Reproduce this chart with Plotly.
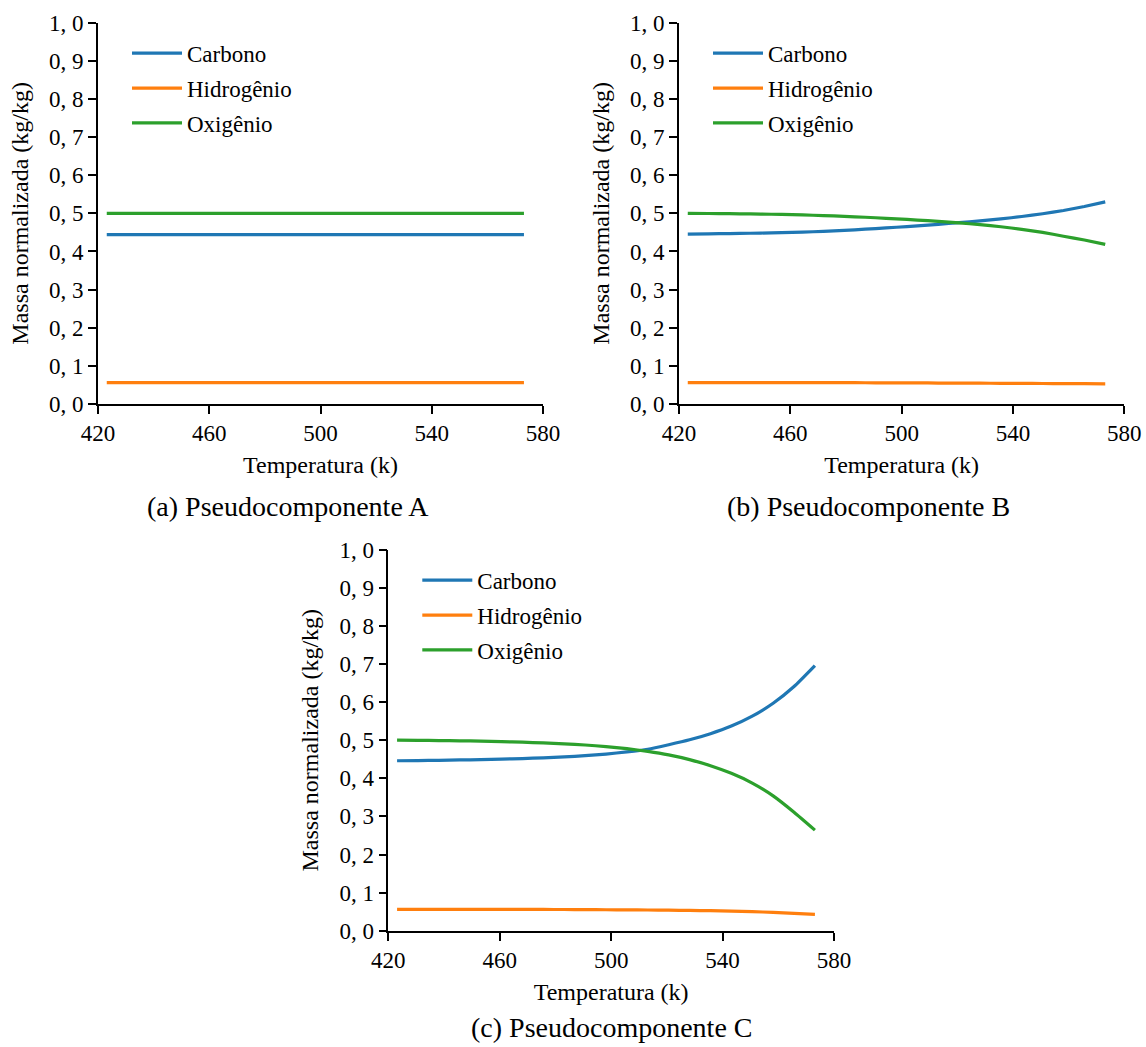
import plotly.graph_objects as go

# ---------------- data ----------------
temperatura = [423.15, 430.65, 438.15, 445.65, 453.15, 460.65, 468.15, 475.65, 483.15, 490.65,
               498.15, 505.65, 513.15, 520.65, 528.15, 535.65, 543.15, 550.65, 558.15, 565.65, 573.15]

# Pseudocomponente A (constant composition)
a_carbono = [0.444] * 21
a_hidrogenio = [0.056] * 21
a_oxigenio = [0.500] * 21

# Pseudocomponente B
b_carbono = [0.4457, 0.4463, 0.4470, 0.4478, 0.4488, 0.4500, 0.4517, 0.4540, 0.4568, 0.4600,
             0.4635, 0.4673, 0.4713, 0.4755, 0.4802, 0.4855, 0.4917, 0.4990, 0.5075, 0.5180, 0.5300]
b_hidrogenio = [0.056, 0.056, 0.056, 0.056, 0.056, 0.056, 0.056, 0.056, 0.0558, 0.0556,
                0.0555, 0.0553, 0.055, 0.0548, 0.0546, 0.0543, 0.054, 0.0537, 0.0534, 0.0532, 0.053]
b_oxigenio = [0.5000, 0.4996, 0.4991, 0.4985, 0.4977, 0.4965, 0.4950, 0.4932, 0.4910, 0.4884,
              0.4856, 0.4824, 0.4789, 0.4750, 0.4703, 0.4648, 0.4580, 0.4500, 0.4400, 0.4300, 0.4186]

# Pseudocomponente C
c_carbono = [0.4460, 0.4466, 0.4473, 0.4481, 0.4491, 0.4503, 0.4518, 0.4537, 0.4562, 0.4595,
             0.4637, 0.4692, 0.4763, 0.4880, 0.5010, 0.5170, 0.5370, 0.5630, 0.5970, 0.6410, 0.6960]
c_hidrogenio = [0.056, 0.056, 0.056, 0.056, 0.056, 0.056, 0.056, 0.0558, 0.0556, 0.0553,
                0.055, 0.0547, 0.0543, 0.0538, 0.0532, 0.0525, 0.0515, 0.050, 0.048, 0.0457, 0.043]
c_oxigenio = [0.5000, 0.4996, 0.4991, 0.4984, 0.4975, 0.4963, 0.4948, 0.4929, 0.4905, 0.4874,
              0.4833, 0.4778, 0.4706, 0.4614, 0.4490, 0.4330, 0.4130, 0.3875, 0.3540, 0.3110, 0.2640]

series_names = ["Carbono", "Hidrogênio", "Oxigênio"]
series_colors = ["#1f77b4", "#ff7f0e", "#2ca02c"]

x_ticks = [420, 460, 500, 540, 580]
y_ticks = [0.0, 0.1, 0.2, 0.3, 0.4, 0.5, 0.6, 0.7, 0.8, 0.9, 1.0]
y_ticktext = ["0, 0", "0, 1", "0, 2", "0, 3", "0, 4", "0, 5", "0, 6", "0, 7", "0, 8", "0, 9", "1, 0"]

captions = ["(a) Pseudocomponente A", "(b) Pseudocomponente B", "(c) Pseudocomponente C"]

panels = [
    (a_carbono, a_hidrogenio, a_oxigenio),
    (b_carbono, b_hidrogenio, b_oxigenio),
    (c_carbono, c_hidrogenio, c_oxigenio),
]

# ---------------- layout geometry ----------------
W, H = 1146, 1047
FONT = "Liberation Serif"

# pixel boxes of the three plot areas: (left, right, top, bottom)
boxes = [
    (98, 543, 22.7, 404),
    (679, 1124.3, 22.7, 404),
    (388.3, 834, 549.7, 930.7),
]
caption_centers = [288, 868, 612]
caption_rows = [507, 507, 1027]

fig = go.Figure()
axis_ids = ["", "2", "3"]
legend_ids = ["legend", "legend2", "legend3"]

for i, (vals, box) in enumerate(zip(panels, boxes)):
    aid = axis_ids[i]
    for name, color, y in zip(series_names, series_colors, vals):
        fig.add_trace(go.Scatter(
            x=temperatura, y=y, name=name, mode="lines",
            line=dict(color=color, width=3.2, shape="spline", smoothing=0.5),
            xaxis="x" + aid, yaxis="y" + aid,
            legend=legend_ids[i], legendgroup=f"{i}{name}",
        ))
    l, r, t, b = box
    common = dict(showline=True, linecolor="black", linewidth=1.6, ticks="outside",
                  ticklen=8, tickwidth=1.6, tickcolor="black", showgrid=False,
                  zeroline=False, automargin=False,
                  tickfont=dict(family=FONT, size=23, color="black"))
    fig.update_layout(**{
        "xaxis" + aid: dict(domain=[l / W, r / W], range=[420, 580], tickvals=x_ticks,
                            anchor="y" + aid,
                            title=dict(text="Temperatura (k)", standoff=11,
                                       font=dict(family=FONT, size=24, color="black")),
                            **common),
        "yaxis" + aid: dict(domain=[1 - b / H, 1 - t / H], range=[0, 1.0], tickvals=y_ticks,
                            ticktext=y_ticktext, anchor="x" + aid,
                            title=dict(text="Massa normalizada (kg/kg)", standoff=14,
                                       font=dict(family=FONT, size=24, color="black")),
                            **common),
        legend_ids[i]: dict(x=(l + 29) / W, y=1 - (t + 9) / H, xanchor="left", yanchor="top",
                            bgcolor="rgba(0,0,0,0)", borderwidth=0,
                            font=dict(family=FONT, size=23, color="black"),
                            tracegroupgap=2, itemwidth=50),
    })
    fig.add_annotation(text=captions[i], xref="paper", yref="paper",
                       x=caption_centers[i] / W, y=1 - caption_rows[i] / H,
                       showarrow=False, xanchor="center", yanchor="middle",
                       font=dict(family=FONT, size=28, color="black"))

fig.update_layout(width=W, height=H, margin=dict(l=0, r=0, t=0, b=0),
                  paper_bgcolor="white", plot_bgcolor="white",
                  font=dict(family=FONT, color="black"))

fig.write_html("out.html")
